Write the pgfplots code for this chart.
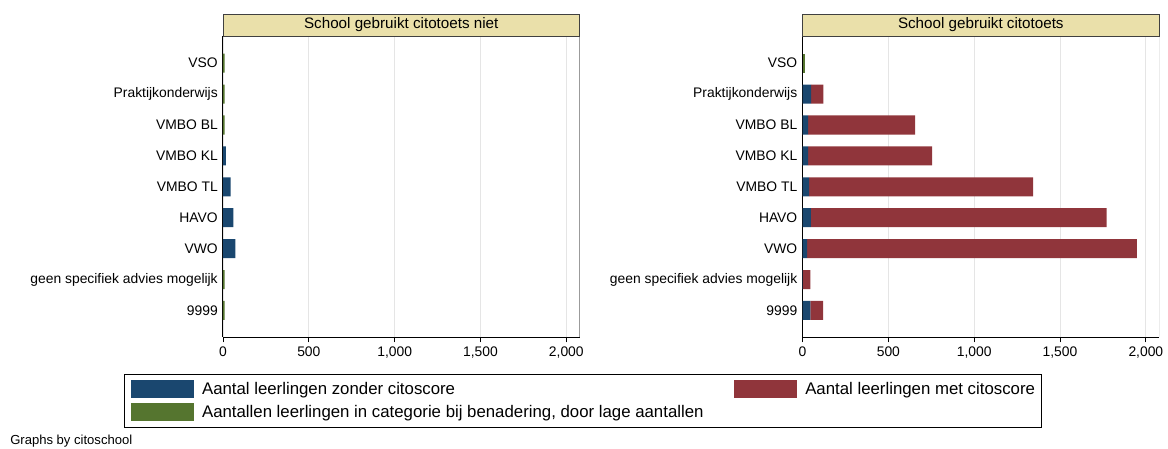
\documentclass[border=0pt]{standalone}
\usepackage{pgfplots}
\pgfplotsset{compat=1.18}
\usepackage{pgfplotstable}
\usepackage{fontspec}
\setmainfont{Liberation Sans}

\definecolor{cblue}{RGB}{26,71,111}
\definecolor{cred}{RGB}{144,53,59}
\definecolor{cgreen}{RGB}{85,117,47}
\definecolor{titlebg}{RGB}{234,224,170}

% y: 1 = VSO ... 9 = 9999
\pgfplotstableread{
y blue red green
1 0 0 10
2 0 0 10
3 0 0 10
4 17 0 0
5 45 0 0
6 60 0 0
7 72 0 0
8 0 0 10
9 0 0 10
}\leftdata

\pgfplotstableread{
y blue red green
1 0 0 12
2 50 72 0
3 33 623 0
4 33 722 0
5 39 1304 0
6 49 1723 0
7 27 1921 0
8 2 44 0
9 45 75 0
}\rightdata

\pgfplotsset{
  panel/.style={
    scale only axis,
    width=267.4pt, height=225.75pt,
    xbar stacked,
    bar width=0.615,
    xmin=0, xmax=2077,
    ymin=0.13, ymax=9.87,
    y dir=reverse,
    axis x line*=bottom, axis y line*=left,
    axis line style={black, line width=0.75pt},
    xtick={0,500,1000,1500,2000},
    ytick={1,...,9},
    yticklabels={VSO,Praktijkonderwijs,VMBO BL,VMBO KL,VMBO TL,HAVO,VWO,geen specifiek advies mogelijk,9999},
    xmajorgrids,
    grid style={black!10, line width=0.6pt},
    xtick style={black, line width=0.6pt},
    ytick style={draw=none},
    tick align=outside,
    major tick length=3.75pt,
    ticklabel style={font=\fontsize{10.4}{12}\selectfont},
    yticklabel style={inner sep=0pt, xshift=0pt},
    /pgf/number format/assume math mode=true,
    /pgf/number format/1000 sep={,},
    scaled x ticks=false,
    title style={at={(0.5,1)}, anchor=south, yshift=-6pt, fill=titlebg, draw=black!75,
      line width=0.6pt, minimum width=267.4pt, minimum height=16.5pt,
      inner sep=0pt, font=\fontsize{11.4}{13}\selectfont},
    legend image code/.code={\fill[##1] (0pt,-6.75pt) rectangle (47.25pt,6.75pt);},
  }
}

\begin{document}
\begin{tikzpicture}
\path[use as bounding box] (0,0) rectangle (876pt,-336.75pt);

\begin{axis}[panel,
  at={(167.25pt,-252.98pt)}, anchor=south west,
  title={School gebruikt citotoets niet},
  legend columns=2,
  legend cell align=left,
  legend style={at={(-0.2777,-0.1219)}, anchor=north west,
    draw=black, line width=0.6pt,
    font=\fontsize{12.6}{15}\selectfont,
    inner xsep=5pt, inner ysep=4.5pt, row sep=3.75pt,
    nodes={inner sep=0pt},
    /tikz/every odd column/.append style={column sep=6pt},
    /tikz/every even column/.append style={column sep=23pt}},
  ]
  \addplot[fill=cblue, draw=none] table[x=blue, y=y]{\leftdata};
  \addlegendentry{Aantal leerlingen zonder citoscore}
  \addplot[fill=cred, draw=none] table[x=red, y=y]{\leftdata};
  \addlegendentry{Aantal leerlingen met citoscore}
  \addplot[fill=cgreen, draw=none] table[x=green, y=y]{\leftdata};
  \addlegendentry{Aantallen leerlingen in categorie bij benadering, door lage aantallen}
  \draw[black!60, line width=0.75pt] (rel axis cs:1,0) -- (rel axis cs:1,1);
\end{axis}

\begin{axis}[panel,
  at={(601.9pt,-252.98pt)}, anchor=south west,
  title={School gebruikt citotoets},
  ]
  \addplot[fill=cblue, draw=none] table[x=blue, y=y]{\rightdata};
  \addplot[fill=cred, draw=none] table[x=red, y=y]{\rightdata};
  \addplot[fill=cgreen, draw=none] table[x=green, y=y]{\rightdata};
  \draw[black!60, line width=0.75pt] (rel axis cs:1,0) -- (rel axis cs:1,1);
\end{axis}

\node[anchor=west, inner sep=0pt, font=\fontsize{9.8}{11}\selectfont] at (7.5pt,-330.75pt) {Graphs by citoschool};
\end{tikzpicture}
\end{document}
